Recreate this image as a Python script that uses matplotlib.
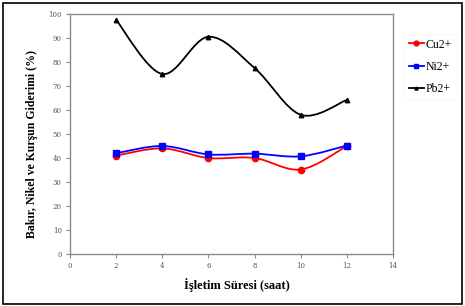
import matplotlib
matplotlib.use("Agg")
import matplotlib.pyplot as plt
import numpy as np
from matplotlib.path import Path
from matplotlib.patches import PathPatch, Rectangle

# operating time (hours)
saat = [2, 4, 6, 8, 10, 12]
# removal (%)
cu = [41, 44, 40, 40, 35.2, 45]
ni = [42, 45, 41.5, 41.8, 40.7, 45.2]
pb = [97.5, 75, 90.5, 77.5, 58, 64.2]


def smooth_path(x, y):
    # Excel-like smoothed line: cubic Bezier segments through the data points
    pts = np.column_stack([x, y]).astype(float)
    n = len(pts)
    verts = [pts[0]]
    codes = [Path.MOVETO]
    for i in range(n - 1):
        p0 = pts[i - 1] if i > 0 else pts[i]
        p1 = pts[i]
        p2 = pts[i + 1]
        p3 = pts[i + 2] if i + 2 < n else pts[i + 1]
        c1 = p1 + (p2 - p0) / 6.0
        c2 = p2 - (p3 - p1) / 6.0
        verts += [c1, c2, p2]
        codes += [Path.CURVE4] * 3
    return Path(verts, codes)


fig = plt.figure(figsize=(4.65, 3.06), dpi=100)
ax = fig.add_axes([70 / 465, 52 / 306, 323 / 465, 240 / 306])

series = [
    (cu, "red", "o", 4.5, "Cu2+"),
    (ni, "blue", "s", 4.5, "Ni2+"),
    (pb, "black", "^", 3.2, "Pb2+"),
]
for vals, col, mk, ms, lab in series:
    ax.add_patch(PathPatch(smooth_path(saat, vals), fill=False, edgecolor=col, lw=1.3))
    ax.plot(saat, vals, linestyle="none", marker=mk, color=col, markersize=ms)
    ax.plot([], [], color=col, marker=mk, markersize=ms - 1, lw=1.3, label=lab)

ax.set_xlim(0, 14)
ax.set_ylim(0, 100)
ax.set_xticks(range(0, 15, 2))
ax.set_yticks(range(0, 101, 10))
for s in ax.spines.values():
    s.set_color("#8c8c8c")
    s.set_linewidth(1)
ax.tick_params(direction="out", length=3, width=0.8, color="#8c8c8c",
               labelsize=5, labelcolor="#555555", pad=3)
for t in ax.get_xticklabels() + ax.get_yticklabels():
    t.set_family("DejaVu Serif")

ax.set_xlabel("İşletim Süresi (saat)", family="Liberation Serif", fontweight="bold",
              fontsize=9)
ax.xaxis.set_label_coords(0.517, -0.10)
ax.set_ylabel("Bakır, Nikel ve Kurşun Giderimi (%)", family="Liberation Serif",
              fontweight="bold", fontsize=8.5)
ax.yaxis.set_label_coords(-0.10, 0.46)

leg = fig.legend(loc="upper left", bbox_to_anchor=(398 / 465, 1 - 28 / 306),
                 prop={"family": "Liberation Serif", "size": 8.5},
                 frameon=True, handlelength=1.3, handletextpad=0.15,
                 labelspacing=0.85, borderpad=0.4, fancybox=False)
leg.get_frame().set_edgecolor("#f2f2f2")
leg.get_frame().set_linewidth(0.6)

fig.patches.append(Rectangle((3 / 465, 2 / 306), 459 / 465, 301 / 306,
                             transform=fig.transFigure, fill=False,
                             edgecolor="black", lw=1.2))

fig.savefig("out.png", dpi=100)
